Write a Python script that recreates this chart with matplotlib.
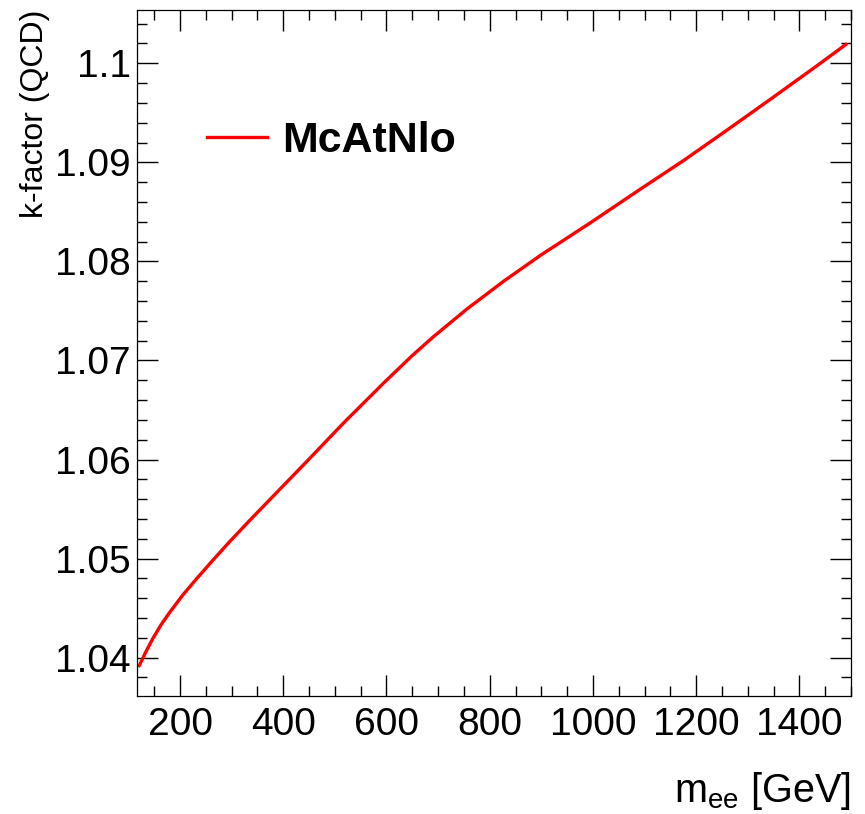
import matplotlib
matplotlib.use('Agg')
import matplotlib.pyplot as plt
from matplotlib.ticker import MultipleLocator, FormatStrFormatter

plt.rcParams['font.family'] = ['Liberation Sans', 'DejaVu Sans']
plt.rcParams['mathtext.default'] = 'regular'

# k-factor vs dielectron mass
mass = [121, 134, 147, 163, 179, 205, 231, 263, 296, 334, 373, 412, 451,
        517, 594, 650, 691, 756, 827, 898, 995, 1092, 1176, 1261, 1350,
        1430, 1490]
kfactor = [1.0392, 1.0406, 1.0419, 1.0433, 1.0445, 1.0463, 1.0479, 1.0498,
           1.0517, 1.0538, 1.0559, 1.0580, 1.0601, 1.0637, 1.0677, 1.0705,
           1.0724, 1.0752, 1.0780, 1.0806, 1.0839, 1.0873, 1.0902, 1.0933,
           1.0966, 1.0996, 1.1019]

fig = plt.figure(figsize=(8.65, 8.14), dpi=100)
ax = fig.add_axes([0.158, 0.145, 0.8258, 0.8427])

ax.plot(mass, kfactor, color='red', lw=2.4, label='McAtNlo',
        solid_joinstyle='round')

ax.set_xlim(116, 1500)
ax.set_ylim(1.03613, 1.10538)

ax.xaxis.set_major_locator(MultipleLocator(200))
ax.xaxis.set_minor_locator(MultipleLocator(50))
ax.yaxis.set_major_locator(MultipleLocator(0.01))
ax.yaxis.set_minor_locator(MultipleLocator(0.002))
ax.xaxis.set_major_formatter(FormatStrFormatter('%g'))
ax.yaxis.set_major_formatter(FormatStrFormatter('%g'))

ax.tick_params(which='both', direction='in', top=True, right=True,
               width=1.0, labelsize=28)
ax.tick_params(which='major', length=15)
ax.tick_params(which='minor', length=7.5)
ax.tick_params(axis='x', pad=8)
ax.tick_params(axis='y', pad=4)
for s in ax.spines.values():
    s.set_linewidth(0.9)

ax.set_xlabel('m$_{ee}$ [GeV]', fontsize=28.5, loc='right')
ax.xaxis.set_label_coords(1.0, -0.108)
ax.set_ylabel('k-factor (QCD)', fontsize=23, loc='top')
ax.yaxis.set_label_coords(-0.121, 1.0)

leg = ax.legend(loc='center left', bbox_to_anchor=(0.098, 0.809),
                frameon=False, borderpad=0, borderaxespad=0,
                handlelength=1.4, handletextpad=0.35,
                prop={'size': 30.9, 'weight': 'bold'})

fig.savefig('out.png', dpi=100)
